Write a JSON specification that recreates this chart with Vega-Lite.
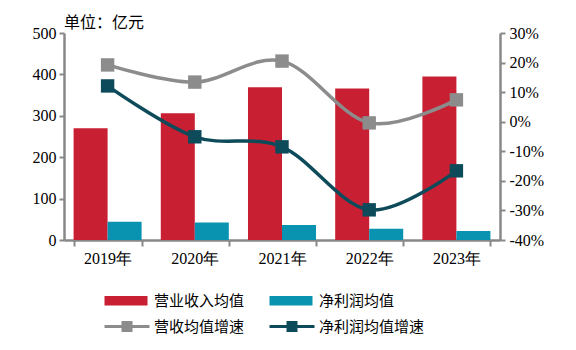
{
  "$schema": "https://vega.github.io/schema/vega-lite/v6.json",
  "width": 436,
  "height": 207,
  "autosize": {"type": "none"},
  "padding": {"left": 64, "top": 33, "right": 76, "bottom": 110},
  "background": "white",
  "title": {"text": "单位：亿元", "anchor": "start", "frame": "group", "font": "Noto Sans CJK SC", "fontSize": 16, "fontWeight": "normal", "color": "#000000", "offset": -6},
  "config": {"view": {"stroke": null}},
  "data": {
    "values": [
      {"year": "2019年", "series": "营业收入均值", "value": 270},
      {"year": "2020年", "series": "营业收入均值", "value": 306},
      {"year": "2021年", "series": "营业收入均值", "value": 369},
      {"year": "2022年", "series": "营业收入均值", "value": 366},
      {"year": "2023年", "series": "营业收入均值", "value": 395},
      {"year": "2019年", "series": "净利润均值", "value": 44},
      {"year": "2020年", "series": "净利润均值", "value": 42},
      {"year": "2021年", "series": "净利润均值", "value": 36},
      {"year": "2022年", "series": "净利润均值", "value": 27},
      {"year": "2023年", "series": "净利润均值", "value": 22},
      {"year": "2019年", "series": "营收均值增速", "value": 19.2},
      {"year": "2020年", "series": "营收均值增速", "value": 13.4},
      {"year": "2021年", "series": "营收均值增速", "value": 20.5},
      {"year": "2022年", "series": "营收均值增速", "value": -0.4},
      {"year": "2023年", "series": "营收均值增速", "value": 7.4},
      {"year": "2019年", "series": "净利润均值增速", "value": 12.1},
      {"year": "2020年", "series": "净利润均值增速", "value": -5.1},
      {"year": "2021年", "series": "净利润均值增速", "value": -8.5},
      {"year": "2022年", "series": "净利润均值增速", "value": -29.8},
      {"year": "2023年", "series": "净利润均值增速", "value": -16.6}
    ]
  },
  "encoding": {
    "x": {
      "field": "year", "type": "nominal", "sort": null,
      "scale": {"paddingInner": 0.22, "paddingOuter": 0.11},
      "axis": {
        "title": null, "labelAngle": 0, "labelFont": "Liberation Serif", "labelFontSize": 16, "labelColor": "#000000",
        "domainColor": "#888888", "domainWidth": 2.5, "tickColor": "#888888", "tickWidth": 2, "tickSize": 6, "tickBand": "extent", "labelPadding": 4
      }
    }
  },
  "layer": [
    {
      "transform": [{"filter": {"field": "series", "oneOf": ["营业收入均值", "净利润均值"]}}],
      "mark": {"type": "bar"},
      "encoding": {
        "xOffset": {"field": "series", "type": "nominal", "sort": ["营业收入均值", "净利润均值"], "scale": {"paddingInner": 0, "paddingOuter": 0}},
        "y": {
          "field": "value", "type": "quantitative",
          "scale": {"domain": [0, 500], "nice": false},
          "axis": {
            "title": null, "values": [0, 100, 200, 300, 400, 500], "grid": false,
            "labelFont": "Liberation Serif", "labelFontSize": 16, "labelColor": "#000000",
            "domainColor": "#888888", "domainWidth": 2.5, "tickColor": "#888888", "tickWidth": 2, "tickSize": 5, "labelPadding": 3
          }
        },
        "color": {
          "field": "series", "type": "nominal",
          "scale": {"domain": ["营业收入均值", "净利润均值", "营收均值增速", "净利润均值增速"], "range": ["#C91F32", "#0A93B0", "#8C8C8C", "#0D4B5B"]},
          "legend": {
            "orient": "none", "legendX": 38, "legendY": 260, "direction": "horizontal", "columns": 2, "title": null,
            "labelFont": "Noto Sans CJK SC", "labelFontSize": 15, "labelColor": "#000000",
            "symbolSize": 100, "labelOffset": 37, "columnPadding": 22, "rowPadding": 10, "padding": 0,
            "encoding": {
              "symbols": {
                "shape": {"condition": {"test": "datum.value === '营业收入均值' || datum.value === '净利润均值'", "value": "M-1,-0.93H7.6V0.93H-1Z"}, "value": "M-1,-0.3H8V0.3H-1Z M2.4,-1.1H4.6V1.1H2.4Z"},
                "fill": {"condition": [
                  {"test": "datum.value === '营业收入均值'", "value": "#C91F32"},
                  {"test": "datum.value === '净利润均值'", "value": "#0A93B0"},
                  {"test": "datum.value === '营收均值增速'", "value": "#8C8C8C"}
                ], "value": "#0D4B5B"},
                "strokeWidth": {"value": 0},
                "opacity": {"value": 1}
              }
            }
          }
        }
      }
    },
    {
      "transform": [{"filter": {"field": "series", "oneOf": ["营收均值增速", "净利润均值增速"]}}],
      "encoding": {
        "y": {
          "field": "value", "type": "quantitative",
          "scale": {"domain": [-40, 30], "nice": false},
          "axis": {
            "orient": "right", "title": null, "values": [-40, -30, -20, -10, 0, 10, 20, 30], "grid": false,
            "labelExpr": "datum.value + '%'",
            "labelFont": "Liberation Serif", "labelFontSize": 16, "labelColor": "#000000",
            "domainColor": "#888888", "domainWidth": 2.5, "tickColor": "#888888", "tickWidth": 2, "tickSize": 5, "labelPadding": 4
          }
        },
        "color": {
          "field": "series", "type": "nominal",
          "scale": {"domain": ["营业收入均值", "净利润均值", "营收均值增速", "净利润均值增速"], "range": ["#C91F32", "#0A93B0", "#8C8C8C", "#0D4B5B"]},
          "legend": null
        }
      },
      "layer": [
        {"mark": {"type": "line", "interpolate": "cardinal", "strokeWidth": 3.5}},
        {"mark": {"type": "point", "shape": "square", "filled": true, "size": 180, "opacity": 1}}
      ]
    }
  ],
  "resolve": {"scale": {"y": "independent"}}
}
